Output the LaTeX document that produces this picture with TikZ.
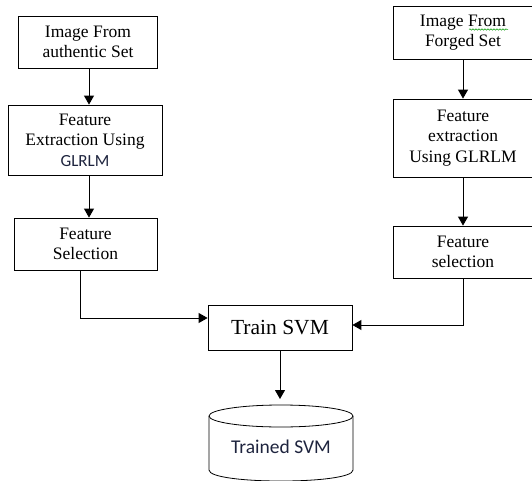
\documentclass[tikz,border=0pt]{standalone}
\usepackage{fontspec}
\setmainfont{Liberation Serif}
\newfontfamily\calib{Carlito}
\usetikzlibrary{arrows.meta,decorations.pathmorphing}
\definecolor{inkblue}{RGB}{30,36,62}
\tikzset{
  box/.style={draw, line width=0.8pt, align=center, inner sep=0pt,
    font=\fontsize{17.5}{20.5}\selectfont},
  arr/.style={line width=0.9pt, -{Triangle[length=9pt,width=10pt]}},
}
\begin{document}
\begin{tikzpicture}[x=1pt,y=-1pt]
  \useasboundingbox (0,0) rectangle (532,481);
  \clip (0,0) rectangle (532,481);
  % authentic branch
  \node[box, minimum width=139pt, minimum height=52pt] (ia) at (88,42) {Image From\\authentic Set};
  \node[box, minimum width=154pt, minimum height=70pt] (ea) at (85,140)
    {Feature\\Extraction Using\\{\calib\color{inkblue}\fontsize{17}{20.5}\selectfont GLRLM}};
  \node[box, minimum width=143pt, minimum height=52pt] (sa) at (85.5,244) {Feature\\Selection};
  % forged branch
  \node[box, minimum width=140pt, minimum height=53pt] (if) at (463,32.5) {Image From\\Forged Set};
  \node[box, minimum width=140pt, minimum height=78pt] (ef) at (463,138) {Feature\\extraction\\Using GLRLM};
  \node[box, minimum width=140pt, minimum height=52pt] (sf) at (463,252) {Feature\\selection};
  \draw[green!60!black, line width=0.5pt, decorate,
    decoration={snake, amplitude=0.7pt, segment length=3pt}] (469,29.5) -- (508,29.5);
  % classifier
  \node[box, minimum width=144pt, minimum height=45pt,
    font=\fontsize{21.5}{24}\selectfont] (svm) at (280,327.5) {Train SVM};
  \coordinate (T) at (280,399);
  \draw[line width=0.8pt] (209,416) -- (209,470)
    .. controls (209,484.7) and (353,484.7) .. (353,470) -- (353,416);
  \draw[line width=0.8pt] (281,416) ellipse [x radius=72pt, y radius=11pt];
  \node[font=\calib\fontsize{19.5}{22}\selectfont, text=inkblue] (db) at (281,447) {Trained SVM};
  % connectors
  \draw[arr] ([xshift=1pt]ia.south) -- ([xshift=1pt]ia.south |- ea.north);
  \draw[arr] ([xshift=1pt]ia.south |- ea.south) -- ([xshift=1pt]ia.south |- sa.north);
  \draw[arr] (if.south) -- (ef.north);
  \draw[arr] (ef.south) -- (sf.north);
  \draw[arr] ([xshift=-5.5pt]sa.south) |- ([yshift=9.5pt]svm.west);
  \draw[arr] (sf.south) |- ([yshift=2.5pt]svm.east);
  \draw[arr] (svm.south) -- (T);
\end{tikzpicture}
\end{document}
